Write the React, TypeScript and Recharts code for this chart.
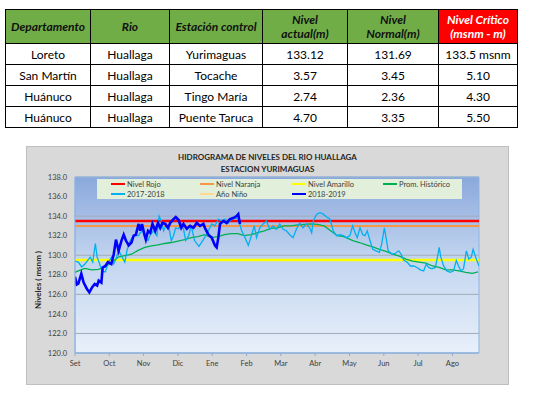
import { LineChart, Line, XAxis, YAxis, CartesianGrid, ReferenceLine, ReferenceArea } from "recharts";

// ---- table ----
const headers = [["Departamento"], ["Rio"], ["Estación control"], ["Nivel", "actual(m)"], ["Nivel", "Normal(m)"], ["Nivel Crítico", "(msnm - m)"]];
const departamentos = ["Loreto", "San Martín", "Huánuco", "Huánuco"];
const rios = ["Huallaga", "Huallaga", "Huallaga", "Huallaga"];
const estaciones = ["Yurimaguas", "Tocache", "Tingo María", "Puente Taruca"];
const nivelActual = ["133.12", "3.57", "2.74", "4.70"];
const nivelNormal = ["131.69", "3.45", "2.36", "3.35"];
const nivelCritico = ["133.5 msnm", "5.10", "4.30", "5.50"];
const colWidths = [85, 79, 93, 85, 91, 79];

// ---- chart ----
const NIVEL_ROJO = 133.5;
const NIVEL_NARANJA = 133.0;
const NIVEL_AMARILLO = 129.5;

const monthTicks = [0, 31, 62, 93, 124, 155, 186, 217, 248, 279, 310, 341];
const monthLabels = ["Set", "Oct", "Nov", "Dic", "Ene", "Feb", "Mar", "Abr", "May", "Jun", "Jul", "Ago"];
const yTicks = [120, 122, 124, 126, 128, 130, 132, 134, 136, 138];

// [day since 1 Set, level]
const promHistorico = [
  [0, 128.25], [3, 128.4], [9, 128.65], [15, 128.5], [21, 128.55], [27, 128.75], [33, 129.25], [39, 129.8],
  [45, 129.95], [51, 130.1], [57, 130.5], [63, 130.8], [69, 130.95], [75, 131.05], [81, 131.2], [87, 131.3],
  [93, 131.45], [99, 131.6], [105, 131.8], [111, 131.9], [117, 132.1], [123, 131.8], [129, 131.9], [135, 132.1],
  [141, 132.2], [147, 132.2], [153, 132.0], [159, 132.1], [165, 132.3], [171, 132.5], [177, 132.75], [183, 132.8],
  [189, 133.0], [195, 133.0], [201, 133.1], [207, 133.15], [213, 133.2], [219, 133.15], [225, 133.0], [231, 132.5],
  [237, 132.0], [243, 131.9], [245, 131.8], [251, 131.5], [257, 131.3], [263, 131.05], [269, 130.85], [275, 130.6],
  [281, 130.4], [287, 130.1], [293, 129.9], [299, 129.6], [305, 129.4], [311, 129.3], [317, 129.2], [323, 128.9],
  [329, 128.75], [335, 128.5], [341, 128.5], [347, 128.4], [353, 128.25], [359, 128.15], [364, 128.3],
];

const serie20172018 = [
  [0, 129.4], [3, 129.3], [6, 128.8], [9, 129.1], [13.8, 129.8], [16, 129.3], [18.4, 131.2], [20, 129.8],
  [21.4, 129.4], [24.4, 128.4], [27.4, 128.3], [30.4, 129.3], [33, 129.8], [35, 129.1], [37, 129.6], [39.4, 130.5],
  [42.5, 129.8], [45, 129.3], [47, 130.5], [49, 131.3], [51.5, 131.8], [54.5, 132.0], [57.5, 132.0], [59, 132.3],
  [61, 132.5], [63.5, 131.8], [66, 131.5], [68, 132.1], [71, 132.5], [74, 132.0], [76, 134.0], [78, 133.5],
  [80, 132.5], [82, 133.0], [84.6, 133.0], [87, 131.5], [89, 132.0], [91, 132.8], [93.6, 132.7], [96, 133.2],
  [98, 132.7], [100, 131.5], [102.7, 132.0], [105, 133.0], [108, 131.5], [112, 130.9], [116, 131.6], [120, 132.4],
  [123.5, 133.2], [126.5, 133.0], [129.5, 133.7], [132.5, 133.5], [135.5, 133.7], [138.5, 133.3], [141.5, 133.7], [144.5, 133.8],
  [147.5, 133.7], [150.6, 132.5], [153.6, 131.8], [156.6, 131.0], [159.6, 132.1], [162, 133.0], [164, 131.8], [167, 132.8],
  [170, 133.2], [173, 133.5], [176, 132.65], [179, 133.0], [182, 132.65], [185, 133.2], [188, 132.65], [191, 132.5],
  [194, 132.1], [197, 131.8], [200, 132.65], [203, 133.3], [206, 132.8], [209, 133.2], [212, 132.8], [213.8, 132.3],
  [215.3, 133.5], [218.3, 134.2], [221.3, 134.35], [224.3, 134.2], [227.3, 133.9], [230.3, 133.7], [233.3, 132.5], [236.3, 132.0],
  [239.4, 132.1], [242.4, 132.0], [245.4, 131.8], [248.4, 132.0], [250.8, 133.0], [253, 132.3], [255, 131.8], [257.5, 132.8],
  [260, 132.1], [262, 132.0], [264, 132.5], [266.5, 131.5], [269, 130.6], [272, 130.45], [275, 130.3], [277, 131.1],
  [279.5, 132.8], [281, 131.8], [283, 130.45], [286.5, 130.1], [289.5, 130.2], [292.5, 130.45], [294.7, 130.1], [297, 129.5],
  [300, 129.3], [303, 128.9], [306, 128.9], [309, 128.75], [312, 128.5], [315, 128.4], [317.3, 129.1], [319.5, 128.75],
  [322.5, 128.6], [325.5, 128.75], [327.5, 129.8], [329, 130.8], [330.5, 129.8], [333, 128.9], [336, 128.4], [339, 128.25],
  [342, 128.4], [344.5, 129.45], [346.5, 128.9], [348.6, 128.4], [351, 128.6], [353.6, 130.45], [355.8, 129.6], [358, 129.8],
  [359.7, 130.6], [362, 129.8], [365, 128.9],
];

const serie20182019 = [
  [0, 127.8], [1.5, 127.0], [3, 127.1], [5.7, 128.1], [7.8, 127.2], [10.8, 126.55], [13, 126.2], [15.4, 126.7],
  [17.8, 127.05], [20, 126.9], [21.4, 127.4], [23.8, 127.2], [25, 128.75], [27.4, 128.9], [29.8, 129.3], [32.8, 129.1],
  [35, 130.1], [37, 131.6], [39.4, 130.45], [42, 131.5], [44, 132.1], [46, 131.5], [48.5, 131.0], [51, 131.3],
  [53, 132.0], [55, 132.1], [57.5, 133.2], [59, 132.5], [60.5, 133.2], [63, 132.0], [64, 131.6], [66, 132.5],
  [68, 132.3], [70, 133.2], [72.5, 132.5], [75, 133.3], [77, 132.8], [79, 133.3], [81.6, 133.2], [84, 132.8],
  [86, 133.3], [89, 133.7], [91, 133.9], [93.6, 133.6], [96, 132.8], [98, 133.2], [101, 132.7], [104, 133.0],
  [107, 132.8], [110, 133.3], [113, 133.0], [116, 133.2], [117.4, 132.8], [120.5, 132.1], [123.5, 131.8], [126.5, 131.0],
  [128, 130.8], [129.5, 131.8], [131, 133.2], [134, 133.5], [137, 133.3], [140, 133.7], [143, 133.8], [146, 134.0],
  [147.5, 134.2], [149, 133.2],
];

const legendItems = [
  { name: "Nivel Rojo", color: "#FF0000" },
  { name: "Nivel Naranja", color: "#F79646" },
  { name: "Nivel Amarillo", color: "#FFFF00" },
  { name: "Prom. Histórico", color: "#00B050" },
  { name: "2017-2018", color: "#00B0F0" },
  { name: "Año Niño", color: "#FFD98E" },
  { name: "2018-2019", color: "#0000FF" },
];

const toPoints = (arr: number[][]) => arr.map(([d, v]) => ({ d, v }));

const font = "Lato, 'Open Sans', sans-serif";

function Tabla() {
  const rows = departamentos.map((dep, i) => [dep, rios[i], estaciones[i], nivelActual[i], nivelNormal[i], nivelCritico[i]]);
  const cell = { border: "1px solid #000", textAlign: "center" as const, padding: 0 };
  return (
    <table
      style={{
        position: "absolute", left: 5, top: 9, width: 512, borderCollapse: "collapse",
        tableLayout: "fixed", fontFamily: font, fontSize: 12, color: "#000",
      }}
    >
      <colgroup>
        {colWidths.map((w, i) => <col key={i} style={{ width: w }} />)}
      </colgroup>
      <thead>
        <tr style={{ height: 34 }}>
          {headers.map((h, i) => (
            <th
              key={i}
              style={{
                ...cell, fontStyle: "italic", fontWeight: 700, lineHeight: "14px",
                background: i === 5 ? "#FF0000" : "#70AD47", color: i === 5 ? "#fff" : "#111",
              }}
            >
              {h.map((line, k) => (
                <span key={k}>{k > 0 && <br />}{line}</span>
              ))}
            </th>
          ))}
        </tr>
      </thead>
      <tbody>
        {rows.map((r, i) => (
          <tr key={i} style={{ height: 21 }}>
            {r.map((c, j) => <td key={j} style={cell}>{c}</td>)}
          </tr>
        ))}
      </tbody>
    </table>
  );
}

function Hidrograma() {
  return (
    <div style={{ position: "absolute", left: 26, top: 146, width: 483, height: 239, background: "#D9D9D9", boxShadow: "inset 0 0 0 1px #BFBFBF", fontFamily: font }}>
      <div style={{ position: "absolute", left: 0, width: 483, top: 5, textAlign: "center", fontSize: 8, fontWeight: 700, color: "#262626", lineHeight: "12px" }}>
        HIDROGRAMA DE NIVELES DEL RIO HUALLAGA<br />ESTACION YURIMAGUAS
      </div>
      <LineChart width={483} height={239} margin={{ top: 31, right: 30, bottom: 12, left: 0 }}>
        <defs>
          <linearGradient id="plotBg" x1="0" y1="0" x2="0" y2="1">
            <stop offset="0%" stopColor="#8AA8DC" />
            <stop offset="45%" stopColor="#C1D4EF" />
            <stop offset="100%" stopColor="#E8F0FA" />
          </linearGradient>
        </defs>
        <CartesianGrid vertical={false} stroke="#A2ABB8" fill="url(#plotBg)" fillOpacity={1} />
        <XAxis
          type="number"
          dataKey="d"
          domain={[0, 365]}
          ticks={monthTicks}
          tickFormatter={(v) => monthLabels[monthTicks.indexOf(v)]}
          tick={{ fontSize: 7.5, fill: "#404040" }}
          tickSize={3}
          tickMargin={5}
          tickLine={{ stroke: "#8EA9DB" }}
          axisLine={{ stroke: "#8EB4E3" }}
          height={20}
          allowDataOverflow
        />
        <YAxis
          type="number"
          domain={[120, 138]}
          ticks={yTicks}
          tickFormatter={(v) => v.toFixed(1)}
          tick={{ fontSize: 7.5, fill: "#404040" }}
          tickLine={false}
          axisLine={{ stroke: "#8EB4E3" }}
          width={49}
          allowDataOverflow
        />
        <ReferenceArea x1={0} x2={365} y1={120} y2={138} fill="none" stroke="#8EB4E3" strokeWidth={1} />
        <ReferenceLine y={NIVEL_ROJO} stroke="#FF0000" strokeWidth={2.5} />
        <ReferenceLine y={NIVEL_NARANJA} stroke="#F79646" strokeWidth={2} />
        <ReferenceLine y={NIVEL_AMARILLO} stroke="#FFFF00" strokeWidth={2.5} />
        <Line data={toPoints(promHistorico)} dataKey="v" stroke="#00B050" strokeWidth={1.3} dot={false} isAnimationActive={false} />
        <Line data={toPoints(serie20172018)} dataKey="v" stroke="#00B0F0" strokeWidth={1.3} dot={false} isAnimationActive={false} />
        <Line data={toPoints(serie20182019)} dataKey="v" stroke="#0000FF" strokeWidth={2.6} dot={false} isAnimationActive={false} />
      </LineChart>
      <div style={{ position: "absolute", left: 71, top: 33, width: 365, height: 20, background: "#E2EFDA" }}>
        {legendItems.map((it, i) => (
          <div
            key={it.name}
            style={{
              position: "absolute", left: [14, 103, 195, 286][i % 4], top: i < 4 ? 0 : 10, height: 10,
              display: "flex", alignItems: "center", fontSize: 7.5, color: "#404040", whiteSpace: "nowrap",
            }}
          >
            <span style={{ display: "inline-block", width: 14, height: 2, background: it.color, marginRight: 2 }} />
            {it.name}
          </div>
        ))}
      </div>
      <div
        style={{
          position: "absolute", left: 12, top: 134, width: 0, height: 0, fontSize: 8, fontWeight: 700, color: "#262626",
        }}
      >
        <div style={{ position: "absolute", transform: "translate(-50%, -50%) rotate(-90deg)", whiteSpace: "nowrap" }}>
          Niveles ( msnm )
        </div>
      </div>
    </div>
  );
}

export default function App() {
  return (
    <div style={{ position: "absolute", left: 0, top: 0, width: 535, height: 396, background: "#fff" }}>
      <Tabla />
      <Hidrograma />
    </div>
  );
}
